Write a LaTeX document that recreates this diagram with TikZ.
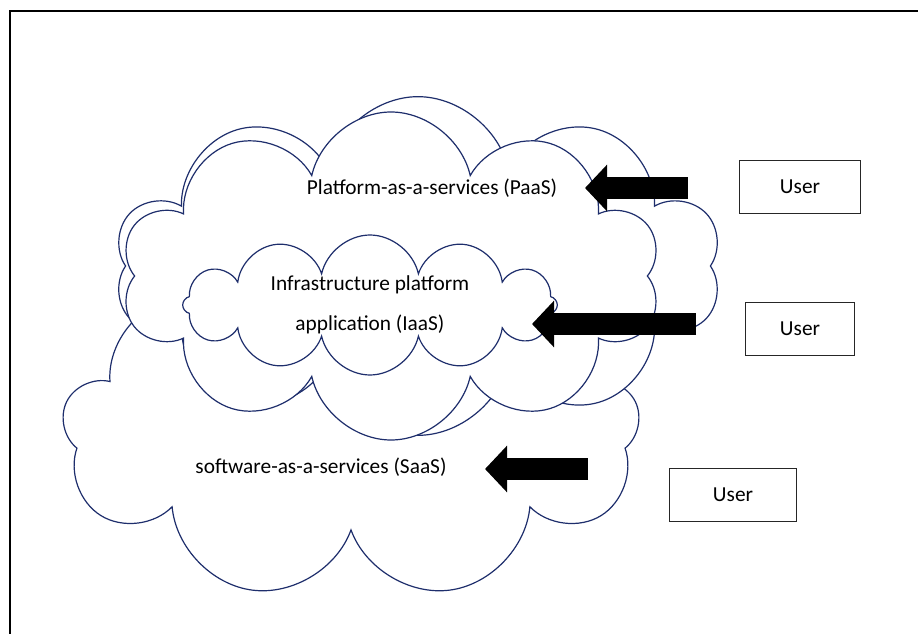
\documentclass[tikz,border=0pt]{standalone}
\usepackage{fontspec}
\setmainfont{Carlito}
\usetikzlibrary{shapes.symbols,arrows.meta}
\definecolor{cloudline}{RGB}{30,46,108}
\tikzset{
  cloudbox/.style={cloud,draw=cloudline,fill=white,line width=0.9pt,cloud ignores aspect,cloud puff arc=155,inner sep=0pt},
  userbox/.style={draw=black!85,line width=1pt,minimum width=#1,minimum height=40pt,font=\fontsize{16}{18}\selectfont},
  blockarrow/.style={line width=17pt,-{Triangle[length=16.5pt,width=34pt]}},
  label/.style={font=\fontsize{16}{30}\selectfont,align=center}
}
\begin{document}
\begin{tikzpicture}[x=0.75pt,y=-0.75pt,line cap=butt,line join=miter]
\useasboundingbox (0,0) rectangle (918,634);

% frame
\draw[line width=1.5pt] (10,634) -- (10,11) -- (918,11);

% clouds, back to front
\node[cloudbox,cloud puffs=9,minimum width=433pt,minimum height=254pt] (saascloud) at (351,431) {};
\node[cloudbox,cloud puffs=10,minimum width=455pt,minimum height=254pt,shape border rotate=12] (paasouter) at (418,266) {};
\node[cloudbox,cloud puffs=10,minimum width=405pt,minimum height=246pt,shape border rotate=-6] (paascloud) at (391,276) {};
\node[cloudbox,cloud puffs=12,minimum width=281pt,minimum height=105pt] (iaascloud) at (370,305) {};

% labels
\node[label] (paas) at (432,188) {Platform-as-a-services (PaaS)};
\node[label] (iaas) at (370,305) {Infrastructure platform\\application (IaaS)};
\node[label] (saas) at (321,467) {software-as-a-services (SaaS)};

% users
\node[userbox=91pt] (user1) at (800,187) {User};
\node[userbox=82pt] (user2) at (800,329) {User};
\node[userbox=95pt] (user3) at (733,495) {User};

% arrows
\coordinate (t1) at (688,188);
\coordinate (h1) at (585,188);
\coordinate (t2) at (696,324);
\coordinate (h2) at (532,324);
\coordinate (t3) at (588,469);
\coordinate (h3) at (485,469);
\draw[blockarrow] (t1) -- (h1);
\draw[blockarrow] (t2) -- (h2);
\draw[blockarrow] (t3) -- (h3);
\end{tikzpicture}
\end{document}
